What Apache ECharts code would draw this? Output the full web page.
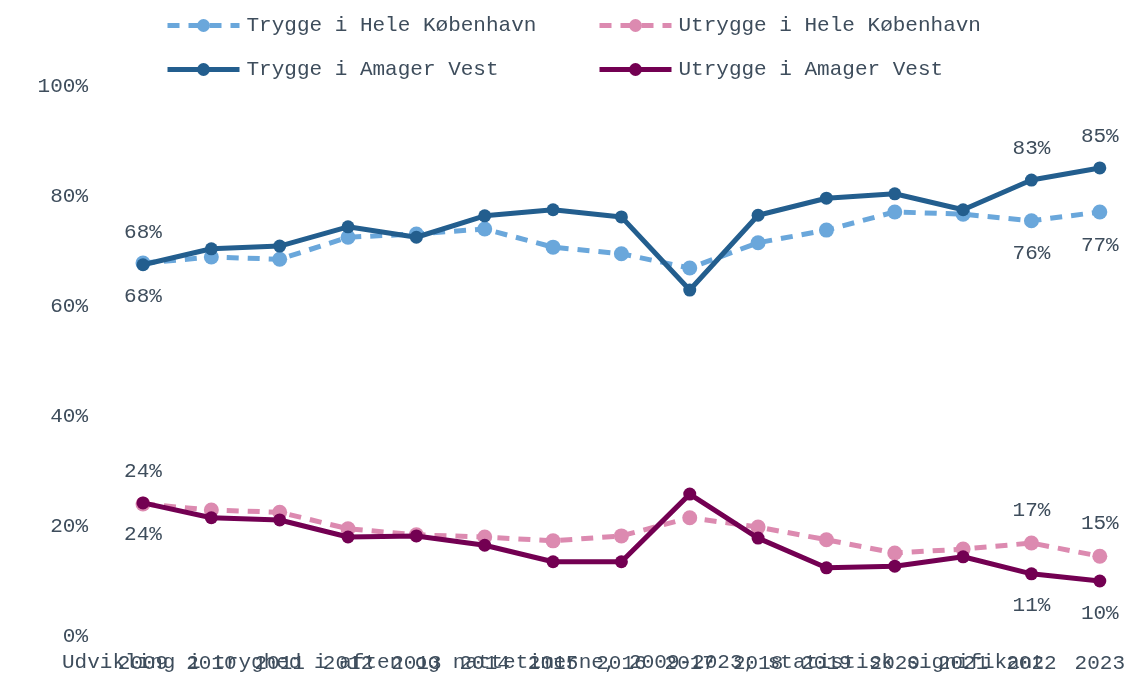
<!DOCTYPE html>
<html>
<head>
<meta charset="utf-8">
<script src="https://cdn.jsdelivr.net/npm/echarts@6/dist/echarts.min.js"></script>
<style>
  html, body { margin: 0; padding: 0; background: #fff; }
  #tryghed { width: 1128px; height: 674px; }
</style>
</head>
<body>
<div id="tryghed"></div>
<script>
  const years = ['2009', '2010', '2011', '2012', '2013', '2014', '2015', '2016', '2017', '2018', '2019', '2020', '2021', '2022', '2023'];
  const tryggeKbh = [67.8, 68.9, 68.5, 72.5, 73.1, 74.0, 70.7, 69.5, 66.9, 71.5, 73.8, 77.1, 76.7, 75.5, 77.1];
  const tryggeAv = [67.5, 70.4, 70.9, 74.4, 72.5, 76.4, 77.5, 76.2, 62.9, 76.5, 79.6, 80.4, 77.5, 82.9, 85.1];
  const utryggeKbh = [24.0, 22.9, 22.5, 19.5, 18.4, 18.0, 17.3, 18.2, 21.5, 19.8, 17.5, 15.1, 15.8, 16.9, 14.5];
  const utryggeAv = [24.2, 21.5, 21.1, 18.0, 18.2, 16.5, 13.5, 13.5, 25.8, 17.8, 12.4, 12.7, 14.4, 11.3, 10.0];
  const labelYears = ['2009', '2022', '2023'];
  const yTicks = [0, 20, 40, 60, 80, 100];

  const names = ['Trygge i Hele København', 'Utrygge i Hele København', 'Trygge i Amager Vest', 'Utrygge i Amager Vest'];
  const font = 'Liberation Mono';
  const textCol = '#3e4d5c';

  function lbl(pos) {
    return {
      show: true,
      position: pos,
      distance: 15,
      fontFamily: font,
      fontSize: 21,
      color: textCol,
      formatter: (p) => labelYears.indexOf(p.name) >= 0 ? Math.round(p.value) + '%' : ''
    };
  }

  function line(name, data, color, dashed, pos, size) {
    return {
      name: name,
      type: 'line',
      data: data,
      symbol: 'circle',
      symbolSize: size,
      z: dashed ? 2 : 3,
      itemStyle: { color: color },
      lineStyle: { color: color, width: 5, type: dashed ? [12, 9] : 'solid' },
      label: lbl(pos)
    };
  }

  // one legend per cell so the two columns line up
  function leg(i, left, top) {
    return {
      data: [names[i]],
      left: left,
      top: top,
      itemWidth: 72,
      itemHeight: 16,
      itemGap: 0,
      lineStyle: { width: 5 },
      textStyle: { fontFamily: font, fontSize: 21, color: textCol, padding: [0, 0, 0, 2] }
    };
  }

  const chart = echarts.init(document.getElementById('tryghed'));
  chart.setOption({
    animation: false,
    grid: { left: 143, right: 28, top: 86, bottom: 38, containLabel: false },
    legend: [leg(0, 160, 10), leg(1, 592, 10), leg(2, 160, 54), leg(3, 592, 54)],
    title: {
      text: 'Udvikling i tryghed i aften og nattetimerne, 2009-2023; statistisk signifikant',
      left: 57,
      top: 647,
      textStyle: { fontFamily: font, fontSize: 21, fontWeight: 'normal', color: textCol }
    },
    xAxis: {
      type: 'category',
      data: years,
      boundaryGap: false,
      axisLine: { show: false },
      axisTick: { show: false },
      axisLabel: { fontFamily: font, fontSize: 21, color: textCol, margin: 17, interval: 0 }
    },
    yAxis: {
      type: 'value',
      min: yTicks[0],
      max: yTicks[yTicks.length - 1],
      interval: yTicks[1] - yTicks[0],
      splitLine: { show: false },
      axisLine: { show: false },
      axisTick: { show: false },
      axisLabel: { fontFamily: font, fontSize: 21, color: textCol, margin: 55, formatter: '{value}%' }
    },
    series: [
      line(names[0], tryggeKbh, '#6aa7db', true, 'bottom', 15),
      line(names[1], utryggeKbh, '#dc8ab0', true, 'top', 15),
      line(names[2], tryggeAv, '#235e8e', false, 'top', 13),
      line(names[3], utryggeAv, '#730052', false, 'bottom', 13)
    ]
  });
</script>
</body>
</html>
